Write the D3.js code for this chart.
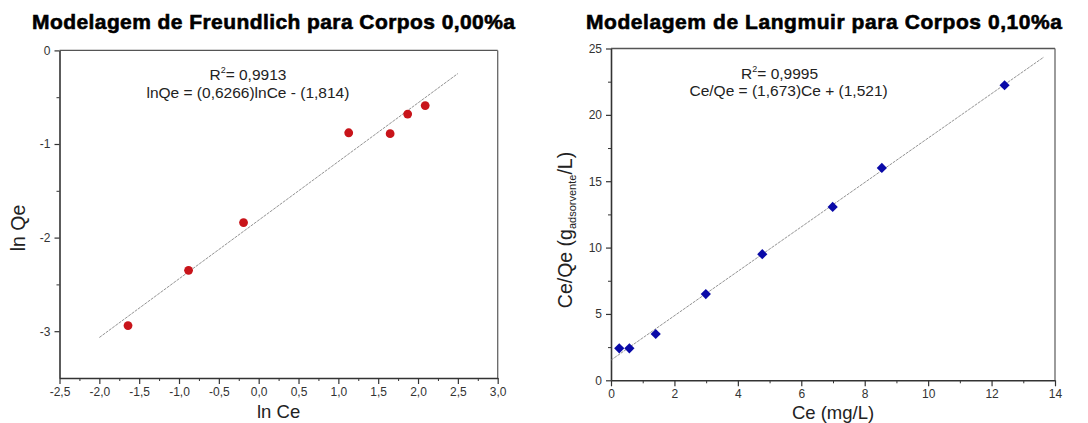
<!DOCTYPE html>
<html>
<head>
<meta charset="utf-8">
<script src="https://cdn.jsdelivr.net/npm/d3@7"></script>
<style>
  body { margin: 0; background: #fff; }
  svg { display: block; font-family: "Liberation Sans", Arial, sans-serif; }
</style>
</head>
<body>
<div id="chart"></div>
<script>
// Freundlich (left panel)
const freundlichLnCe = [-1.64, -0.88, -0.19, 1.13, 1.65, 1.87, 2.09];
const freundlichLnQe = [-2.94, -2.35, -1.84, -0.88, -0.89, -0.68, -0.59];
const freundlichFit = { slope: 0.6266, intercept: -1.814, from: -2.0, to: 2.5 };
const freundlichText = ["0,9913", "lnQe = (0,6266)lnCe - (1,814)"];

// Langmuir (right panel)
const langmuirCe = [0.26, 0.58, 1.41, 2.99, 4.77, 6.99, 8.54, 12.41];
const langmuirCeQe = [2.41, 2.41, 3.49, 6.50, 9.50, 13.06, 16.00, 22.23];
const langmuirFit = { slope: 1.673, intercept: 1.521, from: 0, to: 13.65 };
const langmuirText = ["0,9995", "Ce/Qe = (1,673)Ce + (1,521)"];

const width = 1088, height = 423;

const locale = d3.formatLocale({ decimal: ",", thousands: ".", grouping: [3], currency: ["", ""], minus: "-" });

const svg = d3.select("#chart").append("svg")
    .attr("width", width)
    .attr("height", height);

function panel(opt) {
    let x = d3.scaleLinear().domain(opt.xDomain).range([opt.left, opt.right]);
    let y = d3.scaleLinear().domain(opt.yDomain).range([opt.bottom, opt.top]);
    let g = svg.append("g");

    // title
    g.append("text")
        .attr("x", opt.titleX)
        .attr("y", 29)
        .attr("font-size", 21)
        .attr("font-weight", "bold")
        .attr("fill", "#000")
        .attr("stroke", "#000")
        .attr("stroke-width", 0.6)
        .attr("textLength", opt.titleW)
        .attr("lengthAdjust", "spacing")
        .style("font-family", "'Liberation Sans', Arial, sans-serif")
        .text(opt.title);

    // frame (top + right)
    g.append("line")
        .attr("x1", opt.left).attr("x2", opt.right)
        .attr("y1", opt.top).attr("y2", opt.top)
        .attr("stroke", "#555").attr("stroke-width", 1.3);
    g.append("line")
        .attr("x1", opt.right).attr("x2", opt.right)
        .attr("y1", opt.top).attr("y2", opt.bottom)
        .attr("stroke", "#666").attr("stroke-width", 1.3);

    // minor ticks
    g.append("g")
        .attr("transform", "translate(0," + opt.bottom + ")")
        .call(d3.axisBottom(x).tickValues(opt.xMinor).tickSize(3).tickFormat(""))
        .call(a => a.select(".domain").remove())
        .selectAll("line").attr("stroke", "#333");
    g.append("g")
        .attr("transform", "translate(" + opt.left + ",0)")
        .call(d3.axisLeft(y).tickValues(opt.yMinor).tickSize(3).tickFormat(""))
        .call(a => a.select(".domain").remove())
        .selectAll("line").attr("stroke", "#333");

    // major axes
    let xAxis = g.append("g")
        .attr("transform", "translate(0," + opt.bottom + ")")
        .call(d3.axisBottom(x).tickValues(opt.xTicks).tickSize(6).tickSizeOuter(0)
            .tickPadding(3).tickFormat(locale.format(opt.xFormat)));
    let yAxis = g.append("g")
        .attr("transform", "translate(" + opt.left + ",0)")
        .call(d3.axisLeft(y).tickValues(opt.yTicks).tickSize(5).tickSizeOuter(0)
            .tickPadding(4).tickFormat(locale.format(opt.yFormat)));
    [xAxis, yAxis].forEach(a => {
        a.select(".domain").attr("stroke", "#333").attr("stroke-width", 1.6);
        a.selectAll(".tick line").attr("stroke", "#333").attr("stroke-width", 1.2);
        a.selectAll(".tick text")
            .attr("fill", "#333")
            .attr("font-size", 12)
            .style("font-family", "'Liberation Sans', Arial, sans-serif");
    });

    // fit line
    let fit = opt.fit;
    g.append("line")
        .attr("x1", x(fit.from)).attr("y1", y(fit.slope * fit.from + fit.intercept))
        .attr("x2", x(fit.to)).attr("y2", y(fit.slope * fit.to + fit.intercept))
        .attr("stroke", "#777")
        .attr("stroke-width", 0.8)
        .attr("stroke-dasharray", "3,1");

    // points
    let pts = opt.xs.map((v, i) => ({ x: v, y: opt.ys[i] }));
    if (opt.shape === "circle") {
        g.selectAll("circle.pt").data(pts).enter().append("circle")
            .attr("class", "pt")
            .attr("cx", d => x(d.x))
            .attr("cy", d => y(d.y))
            .attr("r", 4.4)
            .attr("fill", opt.color);
    } else {
        g.selectAll("path.pt").data(pts).enter().append("path")
            .attr("class", "pt")
            .attr("d", d3.symbol(d3.symbolSquare, 52))
            .attr("transform", d => "translate(" + x(d.x) + "," + y(d.y) + ") rotate(45)")
            .attr("fill", opt.color);
    }

    // annotation
    let ax = opt.left + (opt.right - opt.left) * opt.noteX;
    let t1 = g.append("text")
        .attr("x", ax + opt.note1Dx)
        .attr("y", opt.top + 30)
        .attr("text-anchor", "middle")
        .attr("font-size", 15.5)
        .attr("fill", "#222");
    t1.append("tspan").text("R");
    t1.append("tspan").attr("font-size", 9).attr("dy", -7).text("2");
    t1.append("tspan").attr("dy", 7).text("= " + opt.note[0]);
    g.append("text")
        .attr("x", ax)
        .attr("y", opt.top + 47.5)
        .attr("text-anchor", "middle")
        .attr("font-size", 15.5)
        .attr("fill", "#222")
        .text(opt.note[1]);

    // axis titles
    g.append("text")
        .attr("x", (opt.left + opt.right) / 2)
        .attr("y", opt.xLabelY)
        .attr("text-anchor", "middle")
        .attr("font-size", 18.5)
        .attr("fill", "#222")
        .text(opt.xLabel);
    let yl = g.append("text")
        .attr("transform", "translate(" + opt.yLabelX + "," + opt.yLabelY + ") rotate(-90)")
        .attr("text-anchor", "middle")
        .attr("font-size", 19.5)
        .attr("fill", "#222");
    opt.yLabel(yl);
}

panel({
    title: "Modelagem de Freundlich para Corpos 0,00%a",
    titleX: 32, titleW: 483,
    xDomain: [-2.5, 3.0], yDomain: [-3.5, 0],
    left: 59.5, right: 497.7, top: 50.4, bottom: 378,
    xTicks: d3.range(-2.5, 3.01, 0.5), xMinor: d3.range(-2.25, 3.0, 0.5),
    yTicks: [0, -1, -2, -3], yMinor: [-0.5, -1.5, -2.5],
    xFormat: ".1f", yFormat: "d",
    xs: freundlichLnCe, ys: freundlichLnQe,
    fit: freundlichFit, shape: "circle", color: "#c8141a",
    note: freundlichText, noteX: 0.43, note1Dx: 0,
    xLabel: "ln Ce", xLabelY: 418,
    yLabelX: 25, yLabelY: 228,
    yLabel: t => t.text("ln Qe")
});

panel({
    title: "Modelagem de Langmuir para Corpos 0,10%a",
    titleX: 586, titleW: 476,
    xDomain: [0, 14], yDomain: [0, 25],
    left: 611, right: 1055, top: 48.5, bottom: 380.3,
    xTicks: d3.range(0, 14.1, 2), xMinor: d3.range(1, 14, 2),
    yTicks: d3.range(0, 25.1, 5), yMinor: d3.range(2.5, 25, 5),
    xFormat: "d", yFormat: "d",
    xs: langmuirCe, ys: langmuirCeQe,
    fit: langmuirFit, shape: "diamond", color: "#0a0aa8",
    note: langmuirText, noteX: 0.40, note1Dx: -9,
    xLabel: "Ce (mg/L)", xLabelY: 419,
    yLabelX: 572, yLabelY: 230,
    yLabel: t => {
        t.append("tspan").text("Ce/Qe (g");
        t.append("tspan").attr("font-size", 11).attr("dy", 4).text("adsorvente");
        t.append("tspan").attr("dy", -4).text("/L)");
    }
});
</script>
</body>
</html>
